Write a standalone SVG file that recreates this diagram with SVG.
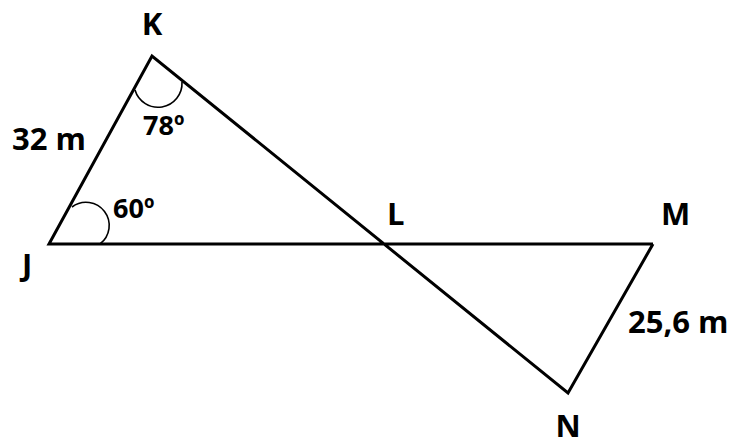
<svg xmlns="http://www.w3.org/2000/svg" width="746" height="445" viewBox="0 0 746 445">
<style>
.ln{fill:none;stroke:#000;stroke-width:3;stroke-linejoin:miter;stroke-linecap:butt}
.arc{fill:none;stroke:#000;stroke-width:1.6}
text{font-family:"Open Sans","Liberation Sans",sans-serif;font-weight:bold;font-size:31px;fill:#000}
.sm{font-size:27px}
</style>
<rect width="746" height="445" fill="#fff"/>
<g id="connectors">
<polyline class="ln" points="653,244 49,244 152,56 568,393 653,244"/>
</g>
<g id="angleJ"><path class="arc" d="M100 244 A22 22 0 1 0 72 207"/></g>
<g id="angleK"><path class="arc" d="M135 90 A24 24 0 0 0 182 82"/></g>
<g id="K"><text x="152" y="35" text-anchor="middle">K</text></g>
<g id="J"><text x="22" y="276">J</text></g>
<g id="L"><text x="387" y="225">L</text></g>
<g id="M"><text x="661" y="225">M</text></g>
<g id="N"><text x="568" y="437" text-anchor="middle">N</text></g>
<g id="labelJK"><text x="12" y="150">32 m</text></g>
<g id="labelMN"><text x="628" y="333">25,6 m</text></g>
<g id="ang78"><text class="sm" x="143" y="135">78º</text></g>
<g id="ang60"><text class="sm" x="113" y="218">60º</text></g>
</svg>
